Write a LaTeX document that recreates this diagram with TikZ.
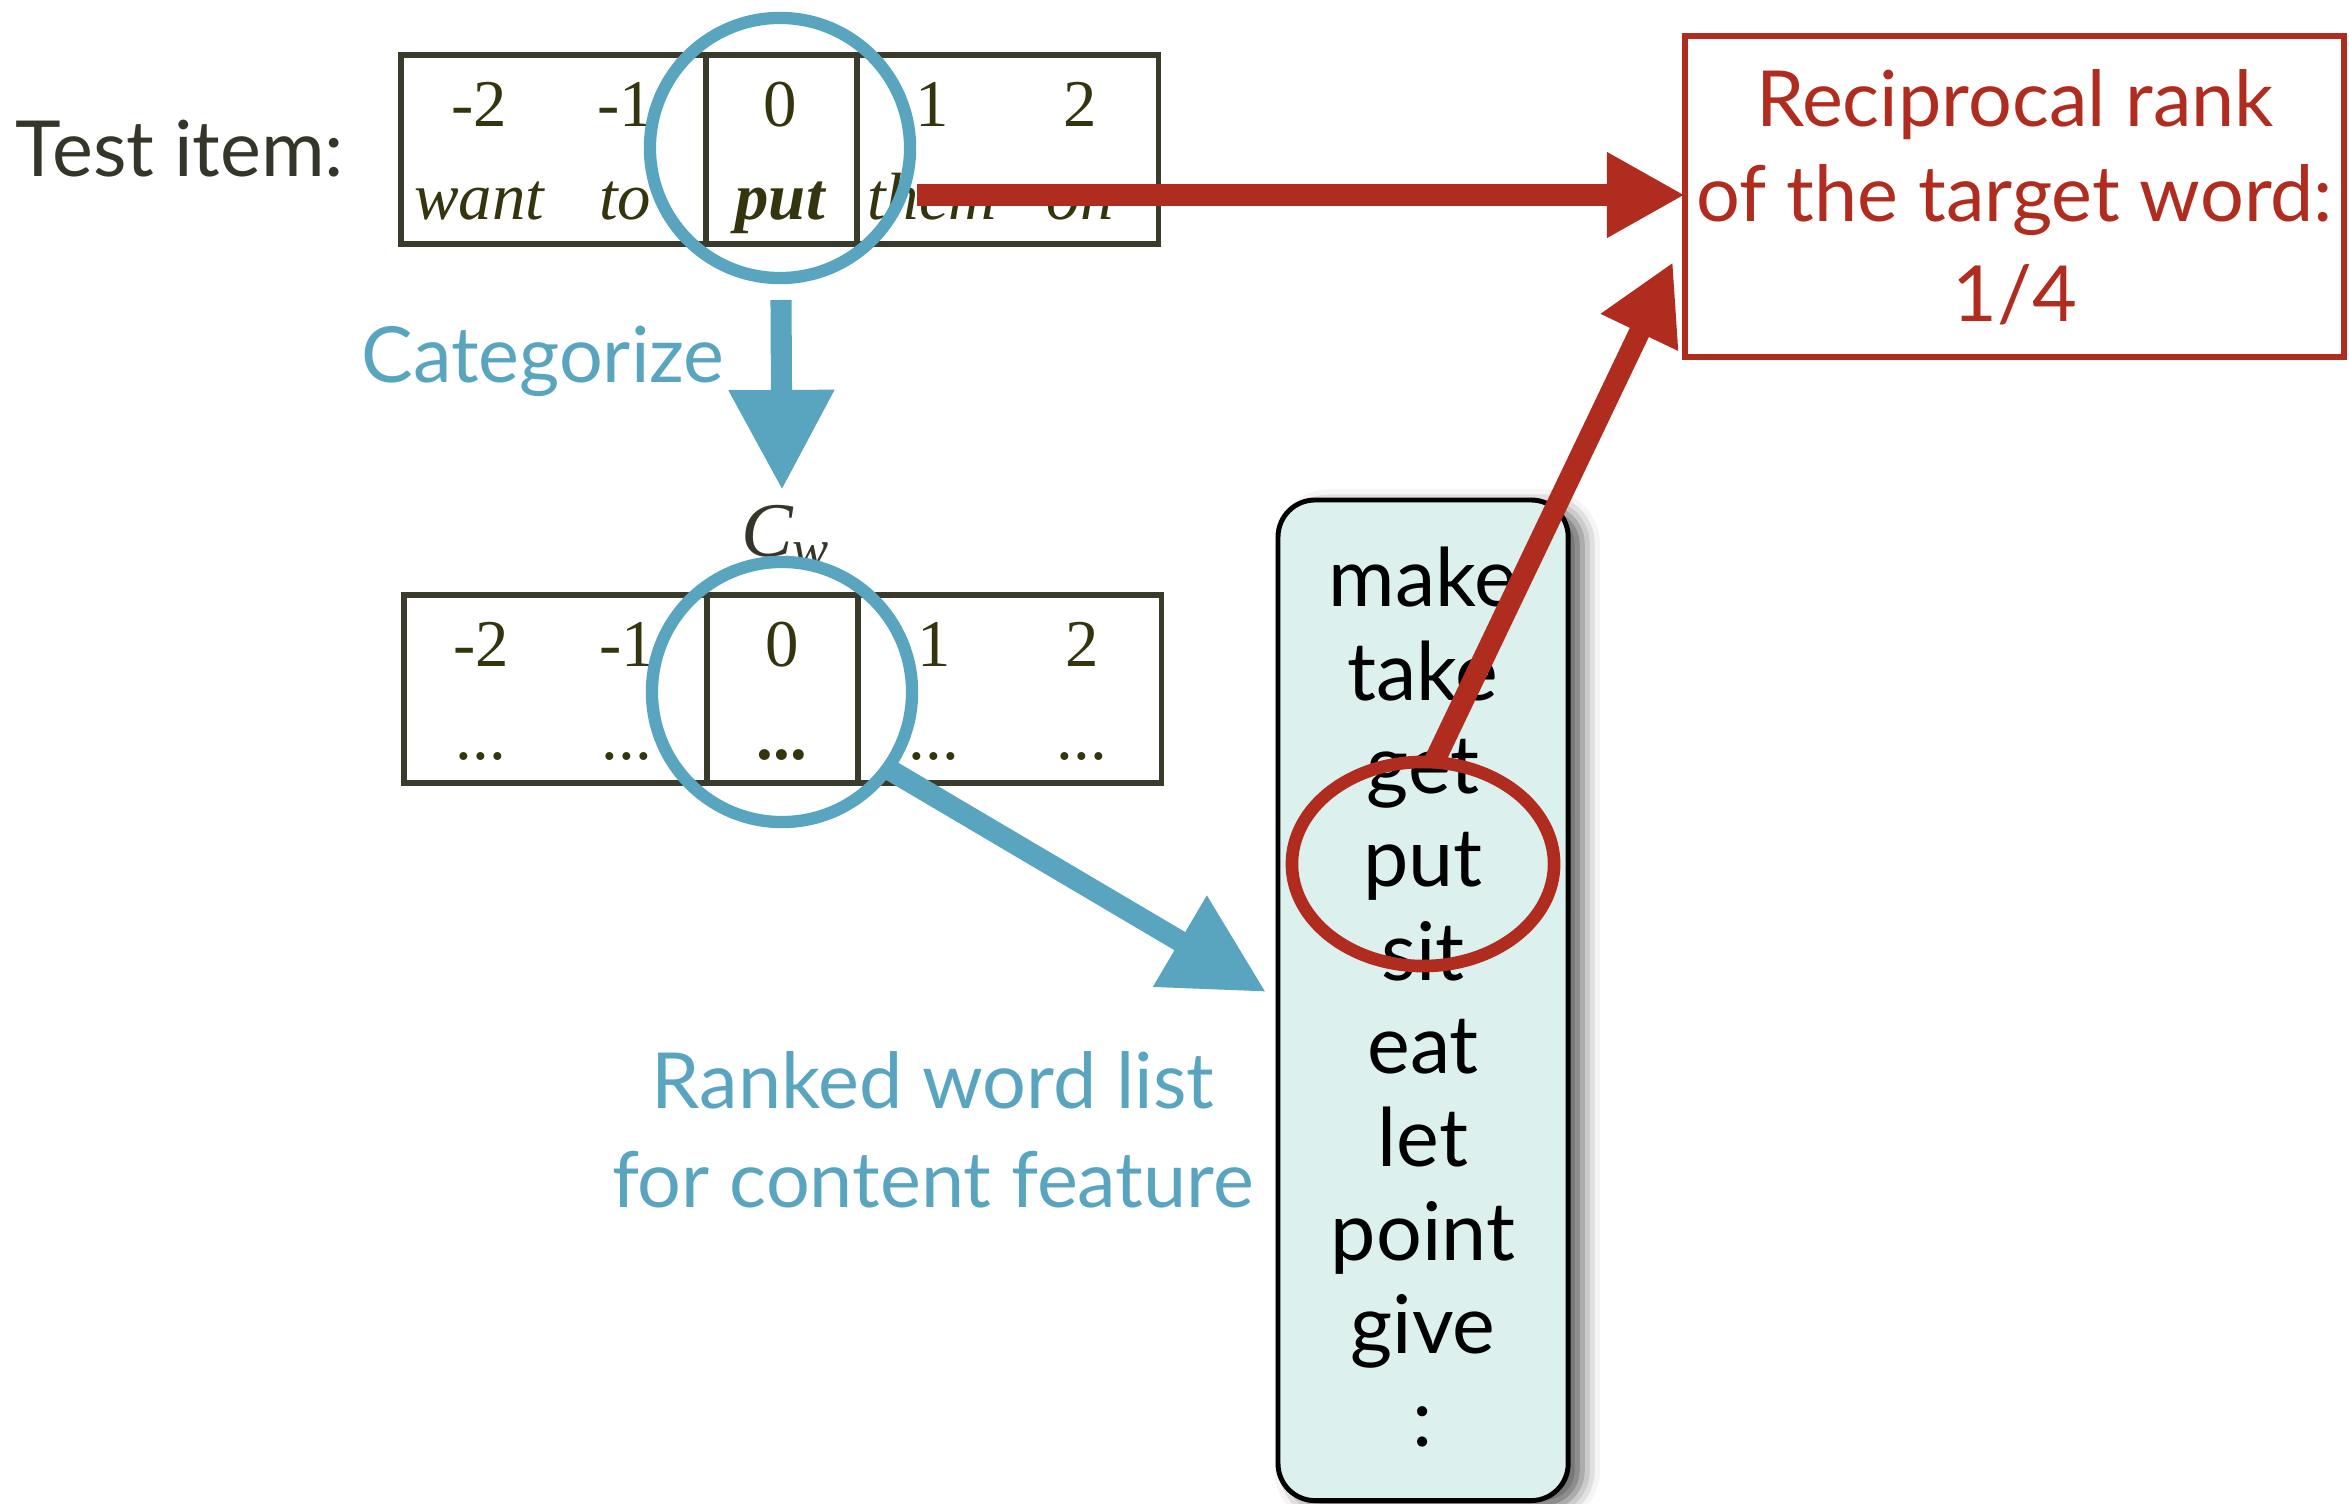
\documentclass[tikz,border=0pt]{standalone}
\usepackage{fontspec}
\setmainfont{Lato}
\newfontfamily\tablefont{Liberation Serif}
\usetikzlibrary{arrows.meta,shapes.geometric,shadows.blur}
\definecolor{capblue}{HTML}{59A5BF}
\definecolor{rankred}{HTML}{B02C1F}
\definecolor{inkdark}{HTML}{35352A}
\definecolor{cellink}{HTML}{34340F}
\definecolor{framecol}{HTML}{3B3B2B}
\definecolor{listfill}{HTML}{DCF0EE}
\begin{document}
\begin{tikzpicture}[x=0.01cm,y=-0.01cm,
  every node/.style={inner sep=0pt, outer sep=0pt},
  lbl/.style={font=\fontsize{22}{26}\selectfont, anchor=base},
  cellbox/.style={draw=framecol, line width=1.5pt, anchor=north west},
  celltxt/.style={font=\tablefont\fontsize{19}{22}\selectfont, text=cellink, anchor=base},
  lens/.style={circle, draw=capblue, line width=3.5pt, minimum size=2.6cm},
  bluearrow/.style={draw=capblue, fill=capblue, line width=6pt, -{Triangle[length=1cm,width=1cm]}},
  redarrow/.style={draw=rankred, fill=rankred, line width=6pt, -{Triangle[length=0.78cm,width=0.8cm]}},
  wordtxt/.style={font=\fontsize{23}{26}\selectfont, text=black, anchor=base}]
\useasboundingbox (0,0) rectangle (2349,1504);

% label of the test item
\node[lbl, text=inkdark] (testlbl) at (180,177) {Test item:};

% test item window
\node[cellbox, minimum width=3.05cm, minimum height=1.89cm] (tl) at (401,55) {};
\node[cellbox, minimum width=1.51cm, minimum height=1.89cm] (tc) at (706,55) {};
\node[cellbox, minimum width=3.01cm, minimum height=1.89cm] (tr) at (857,55) {};
\foreach \x/\n [count=\i] in {479/-2, 625/-1, 780/0, 932/1, 1080/2}
  \node[celltxt] (tnum\i) at (\x,127) {\n};
\node[celltxt] (tw1) at (479,220) {\itshape want};
\node[celltxt] (tw2) at (625,220) {\itshape to};
\node[celltxt] (tw3) at (780,220) {\bfseries\itshape put};
\node[celltxt] (tw4) at (932,220) {\itshape them};
\node[celltxt] (tw5) at (1080,220) {\itshape on};

% category window
\node[cellbox, minimum width=3.03cm, minimum height=1.88cm] (bl) at (404,595) {};
\node[cellbox, minimum width=1.51cm, minimum height=1.88cm] (bc) at (707,595) {};
\node[cellbox, minimum width=3.03cm, minimum height=1.88cm] (br) at (858,595) {};
\foreach \x/\n [count=\i] in {481/-2, 627/-1, 782/0, 934/1, 1082/2}
  \node[celltxt] (bnum\i) at (\x,667) {\n};
\foreach \x [count=\i] in {481, 627, 934, 1082}
  \node[celltxt] (bdot\i) at (\x,760) {...};
\node[celltxt] (bdotc) at (782,760) {\bfseries ...};

\node[font=\tablefont\itshape\fontsize{22}{24}\selectfont, text=inkdark, anchor=base] (cw) at (786,557) {C\textsubscript{w}};

% ranked word list
\node[draw=black, line width=1.4pt, fill=listfill, rounded corners=0.37cm,
      minimum width=2.9cm, minimum height=10.0cm, anchor=north west,
      blur shadow={shadow xshift=4pt, shadow yshift=-2pt, shadow blur radius=5pt, shadow opacity=65}]
      (wordlist) at (1278,500) {};
\foreach \w [count=\i] in {make, take, get, put, sit, eat, let, point, give, :}
  \node[wordtxt] (word\i) at (1423,{607+93.3*(\i-1)}) {\w};

\node[lbl, text=capblue] (catlbl) at (543,383) {Categorize};
\node[lbl, text=capblue] (rk1) at (933,1108) {Ranked word list};
\node[lbl, text=capblue] (rk2) at (933,1207) {for content feature};

% result box
\node[draw=rankred, line width=1.7pt, anchor=north west, minimum width=6.59cm, minimum height=3.21cm] (rrbox) at (1685,36) {};
\node[lbl, text=rankred] (rr1) at (2015,127) {Reciprocal rank};
\node[lbl, text=rankred] (rr2) at (2015,222) {of the target word:};
\node[lbl, text=rankred] (rr3) at (2015,322) {1/4};

% lenses
\node[lens] (lens1) at (780,148) {};
\node[lens] (lens2) at (782,692) {};
\node[ellipse, draw=rankred, line width=3.6pt, minimum width=2.62cm, minimum height=2.04cm] (target) at (1423,864) {};

% connectors
\coordinate (catstart) at (781,300);
\coordinate (catend) at (782,490);
\draw[bluearrow] (catstart) -- (catend);

\coordinate (listin) at (1266,992);
\draw[bluearrow] (lens2.-36) -- (listin);

\coordinate (redstart) at (917,195);
\draw[redarrow] (redstart) -- (rrbox.west |- redstart);

\coordinate (rrin) at (1673,262);
\draw[redarrow] (target.north) ++(11,0) coordinate (tgtop) -- (rrin);
\end{tikzpicture}
\end{document}
